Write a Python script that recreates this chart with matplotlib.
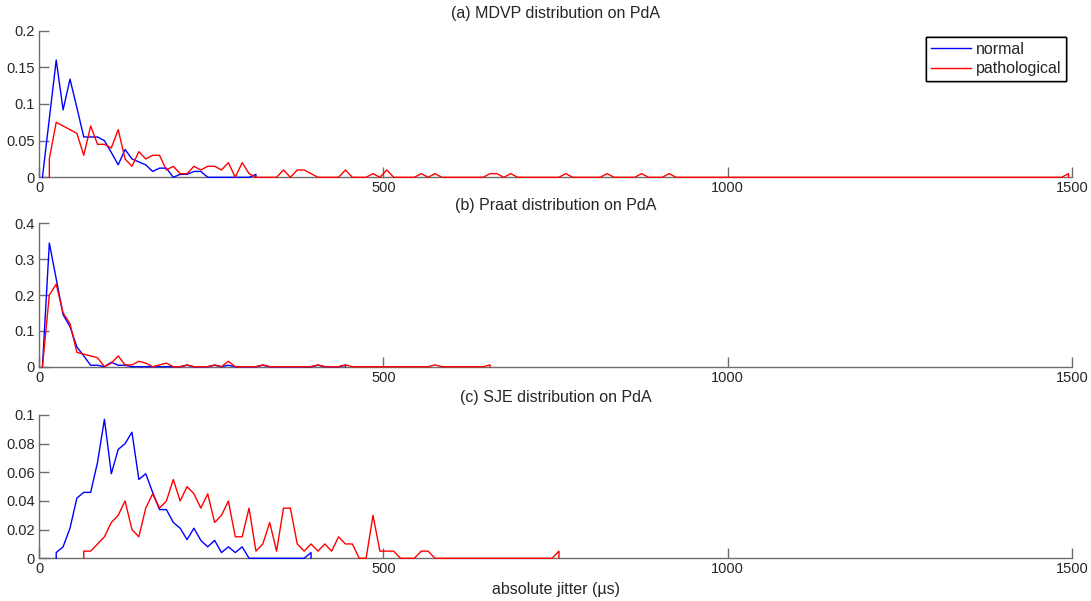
import numpy as np
import matplotlib
matplotlib.use('Agg')
import matplotlib.pyplot as plt
from matplotlib.ticker import FormatStrFormatter

plt.rcParams['font.family'] = ['Liberation Sans', 'DejaVu Sans']

# Histogram bins are 10 us wide; each series: first bin, last bin, dense head values,
# then isolated bumps further along the tail (everything else is zero)

# (a) MDVP
mdvp_normal_first, mdvp_normal_last = 5, 315
mdvp_normal = [0, 0.08, 0.16, 0.092, 0.134, 0.095, 0.055, 0.055, 0.055, 0.05,
               0.034, 0.017, 0.038, 0.025, 0.021, 0.017, 0.008, 0.0125, 0.0125, 0,
               0.004, 0.004, 0.008, 0.008, 0, 0, 0, 0, 0, 0, 0, 0.004]
mdvp_patho_first, mdvp_patho_last = 15, 1495
mdvp_patho = [0.025, 0.075, 0.07, 0.065, 0.06, 0.03, 0.07, 0.045, 0.045, 0.04,
              0.065, 0.025, 0.015, 0.035, 0.025, 0.03, 0.03, 0.01, 0.015, 0.005,
              0.005, 0.015, 0.01, 0.015, 0.015, 0.01, 0.02, 0, 0.02, 0.005]
mdvp_patho_bump_x = [355, 375, 385, 395, 445, 485, 505, 555, 575, 655, 665, 685,
                     765, 825, 875, 915, 1495]
mdvp_patho_bump_y = [0.01, 0.01, 0.01, 0.005, 0.01, 0.005, 0.01, 0.005, 0.005, 0.005,
                     0.005, 0.005, 0.005, 0.005, 0.005, 0.005, 0.005]

# (b) Praat
praat_normal_first, praat_normal_last = 5, 445
praat_normal = [0, 0.345, 0.245, 0.145, 0.112, 0.055, 0.03, 0.004, 0.004, 0,
                0.0125, 0.004, 0.004]
praat_normal_bump_x = [215, 255, 275, 325, 405, 445]
praat_normal_bump_y = [0.004, 0.004, 0.004, 0.004, 0.004, 0.004]
praat_patho_first, praat_patho_last = 5, 655
praat_patho = [0, 0.2, 0.23, 0.15, 0.12, 0.04, 0.035, 0.03, 0.025, 0,
               0.01, 0.03, 0.005, 0.005, 0.015, 0.01, 0, 0.005, 0.01]
praat_patho_bump_x = [215, 255, 275, 325, 405, 445, 575, 655]
praat_patho_bump_y = [0.005, 0.005, 0.015, 0.005, 0.005, 0.005, 0.005, 0.005]

# (c) SJE
sje_normal_first, sje_normal_last = 25, 395
sje_normal = [0.004, 0.008, 0.021, 0.042, 0.046, 0.046, 0.067, 0.097, 0.059, 0.076,
              0.08, 0.088, 0.055, 0.059, 0.046, 0.034, 0.034, 0.025, 0.021, 0.013,
              0.021, 0.0125, 0.008, 0.0125, 0.004, 0.008, 0.004, 0.008, 0, 0,
              0, 0, 0, 0, 0, 0, 0, 0.004]
sje_patho_first, sje_patho_last = 65, 755
sje_patho = [0.005, 0.005, 0.01, 0.015, 0.025, 0.03, 0.04, 0.02, 0.015, 0.035,
             0.045, 0.035, 0.04, 0.055, 0.04, 0.05, 0.045, 0.035, 0.045, 0.025,
             0.03, 0.04, 0.015, 0.015, 0.035, 0.005, 0.01, 0.025, 0.005, 0.035,
             0.035, 0.01, 0.005, 0.01, 0.005, 0.01, 0.005, 0.015, 0.01, 0.01,
             0, 0, 0.03, 0.005, 0.005, 0.005, 0, 0, 0, 0.005, 0.005]
sje_patho_bump_x = [755]
sje_patho_bump_y = [0.005]

titles = ['(a) MDVP distribution on PdA', '(b) Praat distribution on PdA',
          '(c) SJE distribution on PdA']
ylims = [0.2, 0.4, 0.1]
ysteps = [0.05, 0.1, 0.02]
xticks = [0, 500, 1000, 1500]
legend_labels = ['normal', 'pathological']


def curve(first, last, head, bump_x=(), bump_y=()):
    x = np.arange(first, last + 1, 10)
    y = np.zeros(len(x))
    y[:len(head)] = head
    for bx, by in zip(bump_x, bump_y):
        y[(bx - first) // 10] = by
    # drop back to zero at both ends like the original plots
    return np.r_[x[0], x, x[-1]], np.r_[0, y, 0]


series = [
    (curve(mdvp_normal_first, mdvp_normal_last, mdvp_normal),
     curve(mdvp_patho_first, mdvp_patho_last, mdvp_patho, mdvp_patho_bump_x, mdvp_patho_bump_y)),
    (curve(praat_normal_first, praat_normal_last, praat_normal, praat_normal_bump_x, praat_normal_bump_y),
     curve(praat_patho_first, praat_patho_last, praat_patho, praat_patho_bump_x, praat_patho_bump_y)),
    (curve(sje_normal_first, sje_normal_last, sje_normal),
     curve(sje_patho_first, sje_patho_last, sje_patho, sje_patho_bump_x, sje_patho_bump_y)),
]

fig = plt.figure(figsize=(10.91, 6.01), dpi=100)
W, H = 1091, 601
left, right = 39, 1072
boxes = [(30.7, 177.3), (223.3, 366.7), (415, 558.3)]
axis_col = '#6e6e6e'
text_col = '#262626'

for i, (top, bottom) in enumerate(boxes):
    ax = fig.add_axes([left / W, 1 - bottom / H, (right - left) / W, (bottom - top) / H])
    (xn, yn), (xp, yp) = series[i]
    ax.plot(xn, yn, color='#0000ff', lw=1.0, label=legend_labels[0], zorder=3, clip_on=False)
    ax.plot(xp, yp, color='#ff0000', lw=1.0, label=legend_labels[1], zorder=3, clip_on=False)
    ax.set_xlim(0, 1500)
    ax.set_ylim(0, ylims[i])
    ax.set_xticks(xticks)
    ax.set_yticks(np.arange(0, ylims[i] + ysteps[i] / 2, ysteps[i]))
    ax.yaxis.set_major_formatter(FormatStrFormatter('%g'))
    for s in ['top', 'right']:
        ax.spines[s].set_visible(False)
    for s in ['left', 'bottom']:
        ax.spines[s].set_color(axis_col)
        ax.spines[s].set_linewidth(1.0)
    ax.tick_params(direction='in', length=7, width=1.0, color=axis_col,
                   labelcolor=text_col, labelsize=10.5, pad=3)
    ax.set_title(titles[i], fontsize=11.5, color=text_col, pad=9.5)
    leg = ax.legend(loc='upper right', bbox_to_anchor=((1066 - left) / (right - left),
                    (bottom - 37) / (bottom - top)), borderaxespad=0, fancybox=False,
                    framealpha=1, edgecolor='black', fontsize=11.5, handlelength=2.5,
                    handletextpad=0.3, borderpad=0.3, labelspacing=0.28)
    leg.get_frame().set_linewidth(1.0)
    for t in leg.get_texts():
        t.set_color(text_col)
    if i == 2:
        ax.set_xlabel('absolute jitter (\u00b5s)', fontsize=11.5, color=text_col, labelpad=4)

fig.savefig('out.png', dpi=100)
